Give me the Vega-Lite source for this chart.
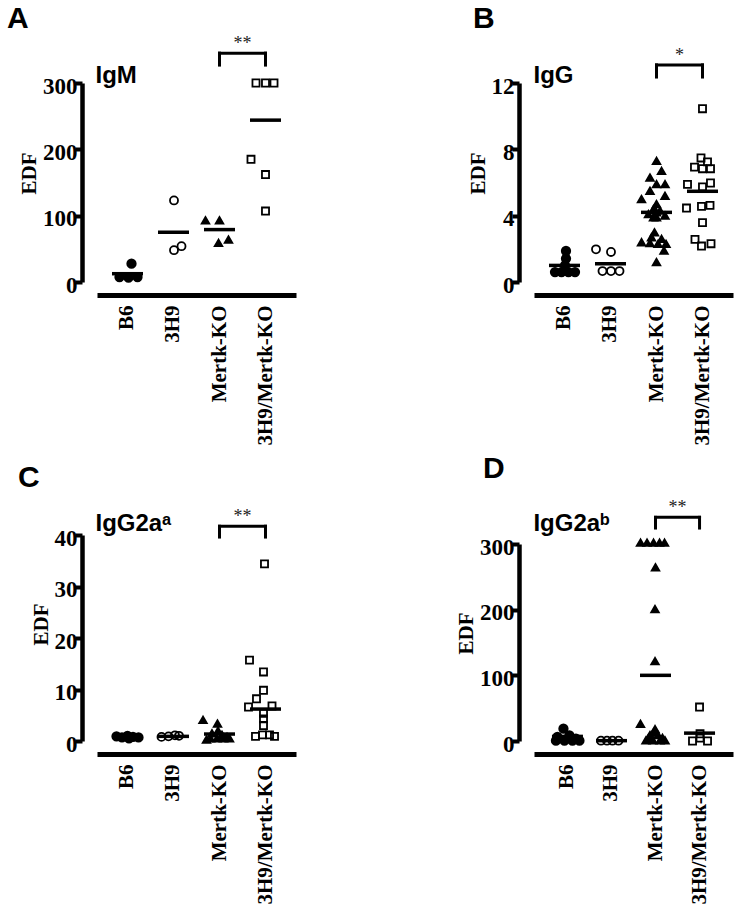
{
  "$schema": "https://vega.github.io/schema/vega-lite/v6.json",
  "background": "white",
  "padding": {"left": 7, "top": 3, "right": 5, "bottom": 5},
  "datasets": {
    "pts": [
      {"panel": "A", "group": "B6", "value": 27.6, "col": 0.8},
      {"panel": "A", "group": "B6", "value": 7.5, "col": -1.6},
      {"panel": "A", "group": "B6", "value": 6.5, "col": 0.2},
      {"panel": "A", "group": "B6", "value": 7.5, "col": 2.0},
      {"panel": "A", "group": "3H9", "value": 123, "col": 0.1},
      {"panel": "A", "group": "3H9", "value": 48, "col": 0.1},
      {"panel": "A", "group": "3H9", "value": 54, "col": 1.6},
      {"panel": "A", "group": "Mertk-KO", "value": 93, "col": -2.8},
      {"panel": "A", "group": "Mertk-KO", "value": 93, "col": 0},
      {"panel": "A", "group": "Mertk-KO", "value": 59, "col": -0.2},
      {"panel": "A", "group": "Mertk-KO", "value": 64, "col": 1.8},
      {"panel": "A", "group": "3H9/Mertk-KO", "value": 300, "col": -1.9},
      {"panel": "A", "group": "3H9/Mertk-KO", "value": 300, "col": 0},
      {"panel": "A", "group": "3H9/Mertk-KO", "value": 300, "col": 1.7},
      {"panel": "A", "group": "3H9/Mertk-KO", "value": 185, "col": -2.9},
      {"panel": "A", "group": "3H9/Mertk-KO", "value": 162, "col": 0},
      {"panel": "A", "group": "3H9/Mertk-KO", "value": 107, "col": 0},

      {"panel": "B", "group": "B6", "value": 1.87, "col": 0.3},
      {"panel": "B", "group": "B6", "value": 1.41, "col": 0.3},
      {"panel": "B", "group": "B6", "value": 1.0, "col": 0.1},
      {"panel": "B", "group": "B6", "value": 0.6, "col": -1.9},
      {"panel": "B", "group": "B6", "value": 0.6, "col": -0.6},
      {"panel": "B", "group": "B6", "value": 0.6, "col": 0.8},
      {"panel": "B", "group": "B6", "value": 0.6, "col": 2.1},
      {"panel": "B", "group": "3H9", "value": 1.97, "col": -2.9},
      {"panel": "B", "group": "3H9", "value": 1.81, "col": 0.1},
      {"panel": "B", "group": "3H9", "value": 0.66, "col": -1.6},
      {"panel": "B", "group": "3H9", "value": 0.66, "col": 0.1},
      {"panel": "B", "group": "3H9", "value": 0.66, "col": 1.8},
      {"panel": "B", "group": "Mertk-KO", "value": 7.3, "col": 0},
      {"panel": "B", "group": "Mertk-KO", "value": 6.7, "col": 1},
      {"panel": "B", "group": "Mertk-KO", "value": 6.3, "col": -1.3},
      {"panel": "B", "group": "Mertk-KO", "value": 5.9, "col": 0},
      {"panel": "B", "group": "Mertk-KO", "value": 5.9, "col": 1.7},
      {"panel": "B", "group": "Mertk-KO", "value": 5.5, "col": -1.3},
      {"panel": "B", "group": "Mertk-KO", "value": 5.2, "col": 1.7},
      {"panel": "B", "group": "Mertk-KO", "value": 5.0, "col": -3},
      {"panel": "B", "group": "Mertk-KO", "value": 4.7, "col": 0},
      {"panel": "B", "group": "Mertk-KO", "value": 4.4, "col": -0.6},
      {"panel": "B", "group": "Mertk-KO", "value": 4.3, "col": 0.7},
      {"panel": "B", "group": "Mertk-KO", "value": 4.2, "col": 0},
      {"panel": "B", "group": "Mertk-KO", "value": 4.1, "col": -1.6},
      {"panel": "B", "group": "Mertk-KO", "value": 4.0, "col": 1.7},
      {"panel": "B", "group": "Mertk-KO", "value": 3.9, "col": 0},
      {"panel": "B", "group": "Mertk-KO", "value": 3.9, "col": -0.6},
      {"panel": "B", "group": "Mertk-KO", "value": 3.0, "col": -0.4},
      {"panel": "B", "group": "Mertk-KO", "value": 2.7, "col": -1},
      {"panel": "B", "group": "Mertk-KO", "value": 2.6, "col": 1},
      {"panel": "B", "group": "Mertk-KO", "value": 2.4, "col": -3},
      {"panel": "B", "group": "Mertk-KO", "value": 2.35, "col": -1.3},
      {"panel": "B", "group": "Mertk-KO", "value": 2.3, "col": 0.3},
      {"panel": "B", "group": "Mertk-KO", "value": 2.3, "col": 1.9},
      {"panel": "B", "group": "Mertk-KO", "value": 1.9, "col": 1.5},
      {"panel": "B", "group": "Mertk-KO", "value": 1.2, "col": 0},
      {"panel": "B", "group": "3H9/Mertk-KO", "value": 10.45, "col": 0},
      {"panel": "B", "group": "3H9/Mertk-KO", "value": 7.48, "col": -0.3},
      {"panel": "B", "group": "3H9/Mertk-KO", "value": 7.24, "col": 1},
      {"panel": "B", "group": "3H9/Mertk-KO", "value": 6.93, "col": -1.6},
      {"panel": "B", "group": "3H9/Mertk-KO", "value": 6.83, "col": 0},
      {"panel": "B", "group": "3H9/Mertk-KO", "value": 6.83, "col": 1.6},
      {"panel": "B", "group": "3H9/Mertk-KO", "value": 5.89, "col": -3},
      {"panel": "B", "group": "3H9/Mertk-KO", "value": 5.73, "col": 0},
      {"panel": "B", "group": "3H9/Mertk-KO", "value": 5.97, "col": 1.6},
      {"panel": "B", "group": "3H9/Mertk-KO", "value": 4.46, "col": -3.2},
      {"panel": "B", "group": "3H9/Mertk-KO", "value": 4.56, "col": -0.2},
      {"panel": "B", "group": "3H9/Mertk-KO", "value": 4.62, "col": 1.5},
      {"panel": "B", "group": "3H9/Mertk-KO", "value": 3.58, "col": 0},
      {"panel": "B", "group": "3H9/Mertk-KO", "value": 2.57, "col": -1.5},
      {"panel": "B", "group": "3H9/Mertk-KO", "value": 2.17, "col": -0.2},
      {"panel": "B", "group": "3H9/Mertk-KO", "value": 2.31, "col": 1.7},

      {"panel": "C", "group": "B6", "value": 0.9, "col": -2.2},
      {"panel": "C", "group": "B6", "value": 0.7, "col": -1.1},
      {"panel": "C", "group": "B6", "value": 1.0, "col": 0},
      {"panel": "C", "group": "B6", "value": 0.5, "col": 0.3},
      {"panel": "C", "group": "B6", "value": 0.8, "col": 1.1},
      {"panel": "C", "group": "B6", "value": 0.7, "col": 2.2},
      {"panel": "C", "group": "3H9", "value": 0.8, "col": -2.4},
      {"panel": "C", "group": "3H9", "value": 0.9, "col": -1.0},
      {"panel": "C", "group": "3H9", "value": 1.1, "col": 0.3},
      {"panel": "C", "group": "3H9", "value": 1.0, "col": 1.1},
      {"panel": "C", "group": "Mertk-KO", "value": 4.1, "col": -3.3},
      {"panel": "C", "group": "Mertk-KO", "value": 3.4, "col": -0.4},
      {"panel": "C", "group": "Mertk-KO", "value": 2.0, "col": -0.3},
      {"panel": "C", "group": "Mertk-KO", "value": 1.5, "col": -1.5},
      {"panel": "C", "group": "Mertk-KO", "value": 1.2, "col": 0.5},
      {"panel": "C", "group": "Mertk-KO", "value": 0.5, "col": -1.8},
      {"panel": "C", "group": "Mertk-KO", "value": 0.5, "col": -0.5},
      {"panel": "C", "group": "Mertk-KO", "value": 0.5, "col": 0.8},
      {"panel": "C", "group": "Mertk-KO", "value": 0.5, "col": 2.0},
      {"panel": "C", "group": "Mertk-KO", "value": 0.8, "col": 1.5},
      {"panel": "C", "group": "Mertk-KO", "value": 0.3, "col": -2.6},
      {"panel": "C", "group": "3H9/Mertk-KO", "value": 34.4, "col": -0.2},
      {"panel": "C", "group": "3H9/Mertk-KO", "value": 15.7, "col": -3.2},
      {"panel": "C", "group": "3H9/Mertk-KO", "value": 13.4, "col": -0.4},
      {"panel": "C", "group": "3H9/Mertk-KO", "value": 9.85, "col": -0.4},
      {"panel": "C", "group": "3H9/Mertk-KO", "value": 8.2, "col": -1.8},
      {"panel": "C", "group": "3H9/Mertk-KO", "value": 6.6, "col": -3.4},
      {"panel": "C", "group": "3H9/Mertk-KO", "value": 6.8, "col": 1.3},
      {"panel": "C", "group": "3H9/Mertk-KO", "value": 5.4, "col": -0.4},
      {"panel": "C", "group": "3H9/Mertk-KO", "value": 4.3, "col": -0.4},
      {"panel": "C", "group": "3H9/Mertk-KO", "value": 3.0, "col": -0.4},
      {"panel": "C", "group": "3H9/Mertk-KO", "value": 0.9, "col": -2},
      {"panel": "C", "group": "3H9/Mertk-KO", "value": 1.2, "col": -0.6},
      {"panel": "C", "group": "3H9/Mertk-KO", "value": 1.2, "col": 0.8},
      {"panel": "C", "group": "3H9/Mertk-KO", "value": 0.9, "col": 1.8},

      {"panel": "D", "group": "B6", "value": 18.7, "col": -1},
      {"panel": "D", "group": "B6", "value": 6.1, "col": -2.2},
      {"panel": "D", "group": "B6", "value": 8.7, "col": 0.2},
      {"panel": "D", "group": "B6", "value": 3.5, "col": 1.5},
      {"panel": "D", "group": "B6", "value": 0.5, "col": -2.5},
      {"panel": "D", "group": "B6", "value": 0.5, "col": -0.8},
      {"panel": "D", "group": "B6", "value": 0.5, "col": 0.8},
      {"panel": "D", "group": "B6", "value": 0.5, "col": 2.2},
      {"panel": "D", "group": "3H9", "value": 0.5, "col": -2.3},
      {"panel": "D", "group": "3H9", "value": 0.5, "col": -1.1},
      {"panel": "D", "group": "3H9", "value": 0.5, "col": 0},
      {"panel": "D", "group": "3H9", "value": 0.5, "col": 1.2},
      {"panel": "D", "group": "Mertk-KO", "value": 302, "col": -3.2},
      {"panel": "D", "group": "Mertk-KO", "value": 302, "col": -1.9},
      {"panel": "D", "group": "Mertk-KO", "value": 302, "col": -0.6},
      {"panel": "D", "group": "Mertk-KO", "value": 302, "col": 0.6},
      {"panel": "D", "group": "Mertk-KO", "value": 302, "col": 1.6},
      {"panel": "D", "group": "Mertk-KO", "value": 264.5, "col": -0.2},
      {"panel": "D", "group": "Mertk-KO", "value": 201, "col": -0.3},
      {"panel": "D", "group": "Mertk-KO", "value": 121.6, "col": -0.3},
      {"panel": "D", "group": "Mertk-KO", "value": 26.3, "col": -3.2},
      {"panel": "D", "group": "Mertk-KO", "value": 1, "col": -2.1},
      {"panel": "D", "group": "Mertk-KO", "value": 1, "col": -0.7},
      {"panel": "D", "group": "Mertk-KO", "value": 1, "col": 0.7},
      {"panel": "D", "group": "Mertk-KO", "value": 1, "col": 1.7},
      {"panel": "D", "group": "Mertk-KO", "value": 5, "col": -1.6},
      {"panel": "D", "group": "Mertk-KO", "value": 5, "col": 1.2},
      {"panel": "D", "group": "Mertk-KO", "value": 9, "col": -1.3},
      {"panel": "D", "group": "Mertk-KO", "value": 9, "col": 0.3},
      {"panel": "D", "group": "Mertk-KO", "value": 13, "col": -0.6},
      {"panel": "D", "group": "Mertk-KO", "value": 18, "col": -0.3},
      {"panel": "D", "group": "3H9/Mertk-KO", "value": 51.7, "col": -0.2},
      {"panel": "D", "group": "3H9/Mertk-KO", "value": 0, "col": -1.6},
      {"panel": "D", "group": "3H9/Mertk-KO", "value": 0, "col": 1.4},
      {"panel": "D", "group": "3H9/Mertk-KO", "value": 11, "col": -0.1},
      {"panel": "D", "group": "3H9/Mertk-KO", "value": 4.5, "col": -0.1}
    ],
    "means": [
      {"panel": "A", "group": "B6", "mean": 12.5},
      {"panel": "A", "group": "3H9", "mean": 75},
      {"panel": "A", "group": "Mertk-KO", "mean": 79},
      {"panel": "A", "group": "3H9/Mertk-KO", "mean": 244},
      {"panel": "B", "group": "B6", "mean": 1.0},
      {"panel": "B", "group": "3H9", "mean": 1.1},
      {"panel": "B", "group": "Mertk-KO", "mean": 4.2},
      {"panel": "B", "group": "3H9/Mertk-KO", "mean": 5.47},
      {"panel": "C", "group": "B6", "mean": 0.75},
      {"panel": "C", "group": "3H9", "mean": 0.9},
      {"panel": "C", "group": "Mertk-KO", "mean": 1.35},
      {"panel": "C", "group": "3H9/Mertk-KO", "mean": 6.2},
      {"panel": "D", "group": "B6", "mean": 7},
      {"panel": "D", "group": "3H9", "mean": 0.5},
      {"panel": "D", "group": "Mertk-KO", "mean": 100},
      {"panel": "D", "group": "3H9/Mertk-KO", "mean": 12}
    ]
  },
  "concat": [
    {
      "width": 199, "height": 199,
      "title": {"text": "A", "dx": -90, "offset": 1},
      "layer": [
        {
          "data": {"name": "pts"},
          "transform": [{"filter": "datum.panel === 'A'"}],
          "mark": {"type": "point", "stroke": "black", "strokeWidth": 1.8, "opacity": 1, "fillOpacity": 1},
          "encoding": {
            "x": {"field": "group", "type": "nominal", "scale": {"domain": ["B6", "3H9", "Mertk-KO", "3H9/Mertk-KO"], "paddingInner": 0, "paddingOuter": 0.163}, "axis": {"title": null}},
            "xOffset": {"field": "col", "type": "quantitative", "scale": {"domain": [-4.6, 4.6], "nice": false, "zero": false}},
            "y": {"field": "value", "type": "quantitative", "scale": {"domain": [0, 300], "nice": false}, "axis": {"title": "EDF", "values": [0, 100, 200, 300], "titleY": 90}},
            "shape": {"field": "group", "type": "nominal", "scale": {"domain": ["B6", "3H9", "Mertk-KO", "3H9/Mertk-KO"], "range": ["circle", "circle", "triangle-up", "square"]}, "legend": null},
            "fill": {"field": "group", "type": "nominal", "scale": {"domain": ["B6", "3H9", "Mertk-KO", "3H9/Mertk-KO"], "range": ["black", "transparent", "black", "transparent"]}, "legend": null},
            "size": {"field": "group", "type": "ordinal", "scale": {"domain": ["B6", "3H9", "Mertk-KO", "3H9/Mertk-KO"], "range": [72, 50, 120, 50]}, "legend": null}
          }
        },
        {
          "data": {"name": "means"},
          "transform": [{"filter": "datum.panel === 'A'"}],
          "mark": {"type": "tick", "size": 31, "thickness": 3.5, "color": "black", "opacity": 1},
          "encoding": {
            "x": {"field": "group", "type": "nominal"},
            "y": {"field": "mean", "type": "quantitative"}
          }
        },
        {
          "data": {"values": [{"g": "Mertk-KO"}, {"g": "3H9/Mertk-KO"}]},
          "mark": {"type": "rule", "strokeWidth": 3, "color": "black", "strokeCap": "square"},
          "encoding": {
            "x": {"field": "g", "type": "nominal"},
            "y": {"datum": 327, "type": "quantitative"},
            "y2": {"datum": 345}
          }
        },
        {
          "data": {"values": [{"s": "**"}]},
          "mark": {"type": "rule", "strokeWidth": 3, "color": "black", "strokeCap": "square"},
          "encoding": {
            "x": {"datum": "Mertk-KO", "bandPosition": 0.5},
            "x2": {"datum": "3H9/Mertk-KO", "bandPosition": 0.5},
            "y": {"datum": 345, "type": "quantitative"}
          }
        },
        {
          "data": {"values": [{"s": "**"}]},
          "mark": {"type": "text", "font": "Liberation Serif", "fontSize": 18, "color": "#222", "align": "center", "baseline": "alphabetic"},
          "encoding": {
            "x": {"datum": "3H9/Mertk-KO", "bandPosition": 0},
            "y": {"datum": 352, "type": "quantitative"},
            "text": {"field": "s"}
          }
        },
        {
          "data": {"values": [{"t": "IgM"}]},
          "mark": {"type": "text", "font": "Liberation Sans", "fontWeight": "bold", "fontSize": 24, "color": "black", "align": "left", "baseline": "middle", "dx": -9},
          "encoding": {
            "x": {"datum": "B6", "bandPosition": 0},
            "y": {"datum": 311, "type": "quantitative"},
            "text": {"field": "t"}
          }
        }
      ]
    },
    {
      "width": 199, "height": 199,
      "title": {"text": "B", "dx": -61, "offset": 13},
      "layer": [
        {
          "data": {"name": "pts"},
          "transform": [{"filter": "datum.panel === 'B'"}],
          "mark": {"type": "point", "stroke": "black", "strokeWidth": 1.8, "opacity": 1, "fillOpacity": 1},
          "encoding": {
            "x": {"field": "group", "type": "nominal", "scale": {"domain": ["B6", "3H9", "Mertk-KO", "3H9/Mertk-KO"], "paddingInner": 0, "paddingOuter": 0.163}, "axis": {"title": null}},
            "xOffset": {"field": "col", "type": "quantitative", "scale": {"domain": [-4.6, 4.6], "nice": false, "zero": false}},
            "y": {"field": "value", "type": "quantitative", "scale": {"domain": [0, 12], "nice": false}, "axis": {"title": "EDF", "values": [0, 4, 8, 12], "titleY": 90}},
            "shape": {"field": "group", "type": "nominal", "scale": {"domain": ["B6", "3H9", "Mertk-KO", "3H9/Mertk-KO"], "range": ["circle", "circle", "triangle-up", "square"]}, "legend": null},
            "fill": {"field": "group", "type": "nominal", "scale": {"domain": ["B6", "3H9", "Mertk-KO", "3H9/Mertk-KO"], "range": ["black", "transparent", "black", "transparent"]}, "legend": null},
            "size": {"field": "group", "type": "ordinal", "scale": {"domain": ["B6", "3H9", "Mertk-KO", "3H9/Mertk-KO"], "range": [72, 50, 120, 50]}, "legend": null}
          }
        },
        {
          "data": {"name": "means"},
          "transform": [{"filter": "datum.panel === 'B'"}],
          "mark": {"type": "tick", "size": 31, "thickness": 3.5, "color": "black", "opacity": 1},
          "encoding": {
            "x": {"field": "group", "type": "nominal"},
            "y": {"field": "mean", "type": "quantitative"}
          }
        },
        {
          "data": {"values": [{"g": "Mertk-KO"}, {"g": "3H9/Mertk-KO"}]},
          "mark": {"type": "rule", "strokeWidth": 3, "color": "black", "strokeCap": "square"},
          "encoding": {
            "x": {"field": "g", "type": "nominal"},
            "y": {"datum": 12.36, "type": "quantitative"},
            "y2": {"datum": 13.09}
          }
        },
        {
          "data": {"values": [{"s": "*"}]},
          "mark": {"type": "rule", "strokeWidth": 3, "color": "black", "strokeCap": "square"},
          "encoding": {
            "x": {"datum": "Mertk-KO", "bandPosition": 0.5},
            "x2": {"datum": "3H9/Mertk-KO", "bandPosition": 0.5},
            "y": {"datum": 13.09, "type": "quantitative"}
          }
        },
        {
          "data": {"values": [{"s": "*"}]},
          "mark": {"type": "text", "font": "Liberation Serif", "fontSize": 18, "color": "#222", "align": "center", "baseline": "alphabetic"},
          "encoding": {
            "x": {"datum": "3H9/Mertk-KO", "bandPosition": 0},
            "y": {"datum": 13.35, "type": "quantitative"},
            "text": {"field": "s"}
          }
        },
        {
          "data": {"values": [{"t": "IgG"}]},
          "mark": {"type": "text", "font": "Liberation Sans", "fontWeight": "bold", "fontSize": 24, "color": "black", "align": "left", "baseline": "middle", "dx": -8},
          "encoding": {
            "x": {"datum": "B6", "bandPosition": 0},
            "y": {"datum": 12.4, "type": "quantitative"},
            "text": {"field": "t"}
          }
        }
      ]
    },
    {
      "width": 199, "height": 206,
      "title": {"text": "C", "dx": -79, "offset": 15},
      "layer": [
        {
          "data": {"name": "pts"},
          "transform": [{"filter": "datum.panel === 'C'"}],
          "mark": {"type": "point", "stroke": "black", "strokeWidth": 1.8, "opacity": 1, "fillOpacity": 1},
          "encoding": {
            "x": {"field": "group", "type": "nominal", "scale": {"domain": ["B6", "3H9", "Mertk-KO", "3H9/Mertk-KO"], "paddingInner": 0, "paddingOuter": 0.163}, "axis": {"title": null}},
            "xOffset": {"field": "col", "type": "quantitative", "scale": {"domain": [-4.6, 4.6], "nice": false, "zero": false}},
            "y": {"field": "value", "type": "quantitative", "scale": {"domain": [0, 40], "nice": false}, "axis": {"title": "EDF", "values": [0, 10, 20, 30, 40], "titleY": 89}},
            "shape": {"field": "group", "type": "nominal", "scale": {"domain": ["B6", "3H9", "Mertk-KO", "3H9/Mertk-KO"], "range": ["circle", "circle", "triangle-up", "square"]}, "legend": null},
            "fill": {"field": "group", "type": "nominal", "scale": {"domain": ["B6", "3H9", "Mertk-KO", "3H9/Mertk-KO"], "range": ["black", "transparent", "black", "transparent"]}, "legend": null},
            "size": {"field": "group", "type": "ordinal", "scale": {"domain": ["B6", "3H9", "Mertk-KO", "3H9/Mertk-KO"], "range": [72, 50, 120, 50]}, "legend": null}
          }
        },
        {
          "data": {"name": "means"},
          "transform": [{"filter": "datum.panel === 'C'"}],
          "mark": {"type": "tick", "size": 31, "thickness": 3.5, "color": "black", "opacity": 1},
          "encoding": {
            "x": {"field": "group", "type": "nominal"},
            "y": {"field": "mean", "type": "quantitative"}
          }
        },
        {
          "data": {"values": [{"g": "Mertk-KO"}, {"g": "3H9/Mertk-KO"}]},
          "mark": {"type": "rule", "strokeWidth": 3, "color": "black", "strokeCap": "square"},
          "encoding": {
            "x": {"field": "g", "type": "nominal"},
            "y": {"datum": 39.6, "type": "quantitative"},
            "y2": {"datum": 41.7}
          }
        },
        {
          "data": {"values": [{"s": "**"}]},
          "mark": {"type": "rule", "strokeWidth": 3, "color": "black", "strokeCap": "square"},
          "encoding": {
            "x": {"datum": "Mertk-KO", "bandPosition": 0.5},
            "x2": {"datum": "3H9/Mertk-KO", "bandPosition": 0.5},
            "y": {"datum": 41.7, "type": "quantitative"}
          }
        },
        {
          "data": {"values": [{"s": "**"}]},
          "mark": {"type": "text", "font": "Liberation Serif", "fontSize": 18, "color": "#222", "align": "center", "baseline": "alphabetic"},
          "encoding": {
            "x": {"datum": "3H9/Mertk-KO", "bandPosition": 0},
            "y": {"datum": 42.5, "type": "quantitative"},
            "text": {"field": "s"}
          }
        },
        {
          "data": {"values": [{"t": "IgG2aᵃ"}]},
          "mark": {"type": "text", "font": "Liberation Sans", "fontWeight": "bold", "fontSize": 24, "color": "black", "align": "left", "baseline": "middle", "dx": -9},
          "encoding": {
            "x": {"datum": "B6", "bandPosition": 0},
            "y": {"datum": 42.1, "type": "quantitative"},
            "text": {"field": "t"}
          }
        }
      ]
    },
    {
      "width": 199, "height": 206,
      "title": {"text": "D", "dx": -51, "offset": 15},
      "layer": [
        {
          "data": {"name": "pts"},
          "transform": [{"filter": "datum.panel === 'D'"}],
          "mark": {"type": "point", "stroke": "black", "strokeWidth": 1.8, "opacity": 1, "fillOpacity": 1},
          "encoding": {
            "x": {"field": "group", "type": "nominal", "scale": {"domain": ["B6", "3H9", "Mertk-KO", "3H9/Mertk-KO"], "paddingInner": 0, "paddingOuter": 0.26}, "axis": {"title": null}},
            "xOffset": {"field": "col", "type": "quantitative", "scale": {"domain": [-4.4, 4.4], "nice": false, "zero": false}},
            "y": {"field": "value", "type": "quantitative", "scale": {"domain": [0, 300], "nice": false, "rangeMax": 9}, "axis": {"title": "EDF", "values": [0, 100, 200, 300], "titleY": 98}},
            "shape": {"field": "group", "type": "nominal", "scale": {"domain": ["B6", "3H9", "Mertk-KO", "3H9/Mertk-KO"], "range": ["circle", "circle", "triangle-up", "square"]}, "legend": null},
            "fill": {"field": "group", "type": "nominal", "scale": {"domain": ["B6", "3H9", "Mertk-KO", "3H9/Mertk-KO"], "range": ["black", "transparent", "black", "transparent"]}, "legend": null},
            "size": {"field": "group", "type": "ordinal", "scale": {"domain": ["B6", "3H9", "Mertk-KO", "3H9/Mertk-KO"], "range": [72, 50, 120, 50]}, "legend": null}
          }
        },
        {
          "data": {"name": "means"},
          "transform": [{"filter": "datum.panel === 'D'"}],
          "mark": {"type": "tick", "size": 31, "thickness": 3.5, "color": "black", "opacity": 1},
          "encoding": {
            "x": {"field": "group", "type": "nominal"},
            "y": {"field": "mean", "type": "quantitative"}
          }
        },
        {
          "data": {"values": [{"g": "Mertk-KO"}, {"g": "3H9/Mertk-KO"}]},
          "mark": {"type": "rule", "strokeWidth": 3, "color": "black", "strokeCap": "square"},
          "encoding": {
            "x": {"field": "g", "type": "nominal"},
            "y": {"datum": 324.3, "type": "quantitative"},
            "y2": {"datum": 340.6}
          }
        },
        {
          "data": {"values": [{"s": "**"}]},
          "mark": {"type": "rule", "strokeWidth": 3, "color": "black", "strokeCap": "square"},
          "encoding": {
            "x": {"datum": "Mertk-KO", "bandPosition": 0.5},
            "x2": {"datum": "3H9/Mertk-KO", "bandPosition": 0.5},
            "y": {"datum": 340.6, "type": "quantitative"}
          }
        },
        {
          "data": {"values": [{"s": "**"}]},
          "mark": {"type": "text", "font": "Liberation Serif", "fontSize": 18, "color": "#222", "align": "center", "baseline": "alphabetic"},
          "encoding": {
            "x": {"datum": "3H9/Mertk-KO", "bandPosition": 0},
            "y": {"datum": 347.7, "type": "quantitative"},
            "text": {"field": "s"}
          }
        },
        {
          "data": {"values": [{"t": "IgG2aᵇ"}]},
          "mark": {"type": "text", "font": "Liberation Sans", "fontWeight": "bold", "fontSize": 24, "color": "black", "align": "left", "baseline": "middle", "dx": -12},
          "encoding": {
            "x": {"datum": "B6", "bandPosition": 0},
            "y": {"datum": 331, "type": "quantitative"},
            "text": {"field": "t"}
          }
        }
      ]
    }
  ],
  "columns": 2,
  "bounds": "flush",
  "spacing": {"row": 253, "column": 238},
  "config": {
    "view": {"stroke": null},
    "title": {"anchor": "start", "frame": "group", "font": "Liberation Sans", "fontSize": 30, "fontWeight": "bold", "color": "black", "baseline": "alphabetic"},
    "axis": {"grid": false, "domainColor": "black", "tickColor": "black", "labelColor": "black", "titleColor": "black", "labelFont": "Liberation Serif", "titleFont": "Liberation Serif", "labelFontWeight": "bold", "titleFontWeight": "bold"},
    "axisY": {"offset": 15, "domainWidth": 4.5, "tickWidth": 4, "tickSize": 7, "labelFontSize": 23, "labelPadding": -2, "labelOffset": 3, "titleFontSize": 21, "titlePadding": 3},
    "axisX": {"offset": 13, "domainWidth": 5, "ticks": false, "labelAngle": 270, "labelFontSize": 21, "labelPadding": 10, "labelLimit": 300}
  }
}
